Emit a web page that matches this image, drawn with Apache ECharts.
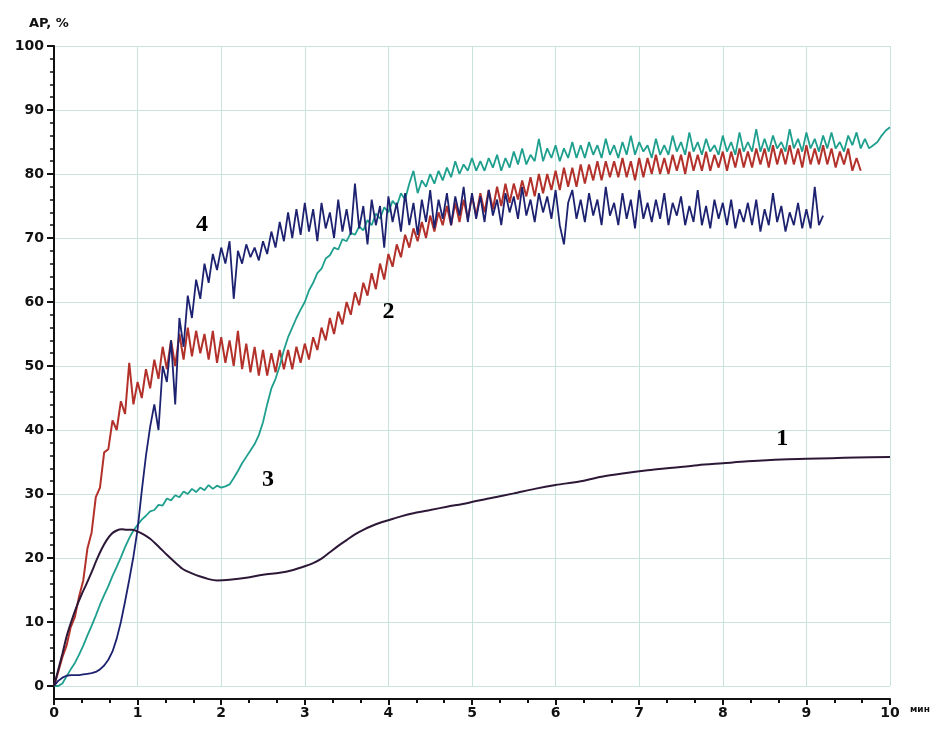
<!DOCTYPE html>
<html>
<head>
<meta charset="utf-8">
<script src="https://cdn.jsdelivr.net/npm/echarts@6/dist/echarts.min.js"></script>
<style>html,body{margin:0;padding:0;background:#fff;}#chart{width:945px;height:731px;}</style>
</head>
<body>
<div id="chart"></div>
<script>
// ---- data ----
const xTickValues = [0,1,2,3,4,5,6,7,8,9,10];
const yTickValues = [0,10,20,30,40,50,60,70,80,90,100];
const sampleStep = 0.05; // minutes between samples of curves 2,3,4

// Curve 1 (smooth): [time, AP%]
const curve1 = [[0,0],[0.05,2.5],[0.1,5],[0.15,7.7],[0.2,9.8],[0.27,12.4],[0.33,14.3],[0.39,16],[0.45,17.8],[0.51,19.7],[0.57,21.4],[0.63,22.8],[0.69,23.8],[0.75,24.3],[0.81,24.5],[0.87,24.4],[0.93,24.4],[0.99,24.2],[1.07,23.7],[1.15,23],[1.25,21.8],[1.35,20.5],[1.45,19.3],[1.55,18.2],[1.65,17.6],[1.75,17.1],[1.85,16.7],[1.95,16.5],[2.1,16.6],[2.3,16.9],[2.5,17.4],[2.7,17.7],[2.85,18.1],[3.0,18.7],[3.1,19.2],[3.2,19.9],[3.3,20.9],[3.4,21.9],[3.5,22.8],[3.6,23.7],[3.7,24.4],[3.8,25],[3.9,25.5],[4.0,25.9],[4.15,26.5],[4.3,27],[4.5,27.5],[4.7,28],[4.95,28.6],[5.2,29.3],[5.5,30.1],[5.75,30.8],[6.0,31.4],[6.3,32],[6.55,32.7],[6.8,33.2],[7.1,33.7],[7.4,34.1],[7.7,34.5],[8.0,34.8],[8.3,35.1],[8.7,35.4],[9.0,35.5],[9.3,35.6],[9.6,35.7],[10,35.8]];

// Curve 2 (red), samples every 0.05 min from 0
const curve2 = [0,2.2,4.5,6.3,9.2,10.8,14.0,16.5,21.5,24.0,29.5,31.0,36.5,37.0,41.5,40.0,44.5,42.5,50.5,44.0,
47.5,45.0,49.5,46.5,51.0,48.0,53.0,49.5,54.0,50.0,55.0,51.0,56.0,51.5,55.5,52.0,55.0,51.0,55.5,50.5,
54.5,50.5,54.0,50.0,55.5,49.5,53.5,49.0,53.0,48.5,52.5,48.5,52.0,49.0,52.5,49.5,52.5,49.5,53.0,50.5,
53.5,51.0,54.5,52.5,56.0,54.0,57.5,55.0,58.5,56.5,60.0,58.0,61.5,59.5,63.0,61.0,64.5,62.0,66.0,63.5,
67.5,65.5,69.0,67.0,70.5,68.5,71.5,69.5,72.5,70.0,73.5,71.0,74.0,72.0,75.0,72.0,75.5,72.5,76.0,73.0,
76.5,73.5,77.0,74.0,77.5,74.5,78.0,75.0,78.5,75.5,78.5,76.0,79.0,76.5,79.5,76.5,80.0,77.0,80.0,77.5,
80.5,77.5,81.0,78.0,81.0,78.0,81.5,78.5,81.5,79.0,82.0,79.0,82.0,79.5,82.0,79.5,82.5,79.5,82.0,79.0,
82.5,79.5,82.5,80.0,83.0,80.0,82.5,80.0,83.0,80.5,83.0,80.0,83.5,80.5,83.0,80.5,83.5,80.5,83.0,81.0,
83.5,80.5,83.5,81.0,84.0,81.0,83.5,81.0,84.0,81.5,84.0,81.0,84.5,81.5,84.0,81.5,84.5,81.5,84.0,81.0,
84.5,81.5,84.0,81.5,84.5,81.5,84.0,81.0,83.5,81.5,84.0,80.5,82.5,80.5];

// Curve 3 (teal), samples every 0.05 min from 0
const curve3 = [0,0.0,0.4,1.5,2.6,3.6,4.9,6.3,7.9,9.4,11.0,12.7,14.2,15.6,17.2,18.6,20.1,21.7,23.1,24.3,
25.2,26.0,26.6,27.3,27.5,28.3,28.2,29.3,29.0,29.8,29.5,30.4,30.0,30.8,30.3,31.0,30.6,31.4,30.8,31.3,
31.0,31.2,31.5,32.5,33.6,34.8,35.8,36.8,37.8,39.2,41.2,44.0,46.5,48.0,50.0,52.5,54.5,56.0,57.5,58.8,
60.0,61.8,63.0,64.5,65.2,66.8,67.3,68.5,68.2,69.8,69.5,70.8,70.5,71.8,71.2,72.8,72.0,73.8,73.0,74.8,
74.0,75.8,75.0,77.0,76.0,78.5,80.5,77.0,79.0,78.0,80.0,78.5,80.5,79.0,81.0,79.5,82.0,80.0,81.5,80.5,
82.5,80.5,82.0,80.5,82.5,81.0,83.0,80.5,82.5,81.0,83.5,81.5,84.0,81.5,83.0,82.0,85.5,82.0,84.0,82.5,
84.5,82.0,84.0,82.5,85.0,82.5,84.5,82.5,85.0,83.0,84.5,82.5,85.5,83.0,84.5,82.5,85.0,83.0,86.0,83.0,
85.0,83.5,84.5,82.5,85.5,83.0,84.5,83.0,86.0,83.5,85.0,83.0,86.5,83.5,85.0,83.0,85.5,83.5,84.5,83.0,
86.0,83.5,85.0,83.0,86.5,83.5,85.0,83.5,87.0,83.5,85.5,83.5,86.0,84.0,85.0,83.5,87.0,84.0,85.5,83.5,
86.5,84.0,85.5,83.5,86.0,84.0,86.5,84.0,85.0,83.5,86.0,84.5,86.5,84.0,85.5,84.0,84.5,85.0,86.0,86.8,
87.3];

// Curve 4 (dark blue), samples every 0.05 min from 0
const curve4 = [0,0.8,1.3,1.6,1.7,1.7,1.7,1.8,1.9,2.0,2.2,2.6,3.2,4.1,5.4,7.4,10.0,13.2,16.6,20.2,
24.5,30.5,36.0,40.5,44.0,40.0,50.0,47.5,54.0,44.0,57.5,53.0,61.0,57.5,63.5,60.5,66.0,63.0,67.5,65.0,
68.5,66.0,69.5,60.5,68.0,66.0,69.0,67.0,68.5,66.5,69.5,67.5,71.0,68.5,72.5,69.5,74.0,70.0,74.5,70.5,
75.5,71.0,74.5,69.5,75.5,71.5,74.0,70.0,76.0,71.0,74.5,70.5,78.5,71.5,75.0,69.0,76.0,72.0,75.0,68.5,
76.5,72.5,75.5,71.0,77.0,72.0,75.5,70.5,76.0,72.5,77.5,71.5,76.0,73.0,77.0,72.0,76.5,73.5,78.0,72.5,
77.0,73.0,76.5,72.5,77.5,73.5,76.0,72.0,77.0,74.0,76.5,73.0,78.0,73.5,76.0,72.5,77.0,74.0,76.5,73.0,
77.5,72.0,69.0,75.5,77.5,73.0,76.0,72.5,77.0,73.5,76.0,72.0,78.0,73.5,75.5,72.0,77.0,73.0,76.0,71.5,
77.5,73.0,75.5,72.5,76.0,73.0,77.0,72.0,75.5,73.5,76.5,72.0,75.0,72.5,77.5,72.0,75.0,71.5,76.0,73.0,
75.5,72.0,76.0,71.5,74.5,72.5,75.5,72.0,76.0,71.0,74.5,72.0,77.0,72.5,75.0,71.0,74.0,72.0,75.5,71.5,
74.5,71.5,78.0,72.0,73.5];

// Curve number annotations: [time, AP%]
const curveLabels = [
  {name:'1', value:[8.71, 38.6]},
  {name:'2', value:[4.0, 58.4]},
  {name:'3', value:[2.56, 32.2]},
  {name:'4', value:[1.77, 72.0]}
];

// ---- chart ----
const toPairs = arr => arr.map((v, i) => [+(i * sampleStep).toFixed(2), v]);
const chart = echarts.init(document.getElementById('chart'), null, {renderer: 'canvas'});
const axisFont = {fontFamily: 'DejaVu Sans', fontWeight: 'bold', color: '#111', fontSize: 14};

chart.setOption({
  animation: false,
  backgroundColor: '#ffffff',
  title: {text: 'AP, %', left: 24, top: 12, textStyle: {fontFamily: 'DejaVu Sans', fontWeight: 'bold', fontSize: 13, color: '#111'}},
  grid: {left: 54, right: 55, top: 46, bottom: 45, containLabel: false},
  xAxis: {
    type: 'value', min: 0, max: 10, interval: 1, offset: 13,
    name: 'мин', nameLocation: 'end', nameGap: 20,
    nameTextStyle: {fontFamily: 'DejaVu Sans', fontWeight: 'bold', fontSize: 9, color: '#111', verticalAlign: 'top', padding: [6, 0, 0, 0]},
    axisLine: {show: true, onZero: false, lineStyle: {color: '#111', width: 2}},
    axisTick: {show: true, length: 6, lineStyle: {color: '#111', width: 2}},
    minorTick: {show: true, splitNumber: 3, length: 4, lineStyle: {color: '#111', width: 2}},
    axisLabel: Object.assign({margin: 7, formatter: v => xTickValues.includes(v) ? String(v) : ''}, axisFont),
    splitLine: {show: true, lineStyle: {color: '#c9e4dd', width: 1}}
  },
  yAxis: {
    type: 'value', min: 0, max: 100, interval: 10,
    axisLine: {show: true, lineStyle: {color: '#111', width: 2}},
    axisTick: {show: true, length: 7, lineStyle: {color: '#111', width: 2}},
    minorTick: {show: true, splitNumber: 5, length: 4, lineStyle: {color: '#111', width: 1.5}},
    axisLabel: Object.assign({margin: 10, formatter: v => yTickValues.includes(v) ? String(v) : ''}, axisFont),
    splitLine: {show: true, lineStyle: {color: '#c9e4dd', width: 1}}
  },
  series: [
    {name: '2', type: 'line', data: toPairs(curve2), showSymbol: false, symbol: 'none', lineStyle: {color: '#b3312b', width: 2}, z: 2},
    {name: '3', type: 'line', data: toPairs(curve3), showSymbol: false, symbol: 'none', lineStyle: {color: '#1f9f8e', width: 1.8}, z: 3},
    {name: '4', type: 'line', data: toPairs(curve4), showSymbol: false, symbol: 'none', lineStyle: {color: '#1d2270', width: 1.8}, z: 4},
    {name: '1', type: 'line', data: curve1, showSymbol: false, symbol: 'none', smooth: 0.3, lineStyle: {color: '#2e1838', width: 2}, z: 5},
    {name: 'labels', type: 'scatter', data: curveLabels, symbolSize: 1, z: 6,
      itemStyle: {opacity: 0},
      label: {show: true, position: 'inside', formatter: p => p.name, fontFamily: 'Liberation Serif', fontWeight: 'bold', fontSize: 24, color: '#000', opacity: 1}}
  ]
});

// extend the y axis line down to the offset x axis line
const p0 = chart.convertToPixel({gridIndex: 0}, [0, 0]);
chart.setOption({
  graphic: [{type: 'line', shape: {x1: p0[0], y1: p0[1], x2: p0[0], y2: p0[1] + 13}, style: {stroke: '#111', lineWidth: 2}}]
});
</script>
</body>
</html>
